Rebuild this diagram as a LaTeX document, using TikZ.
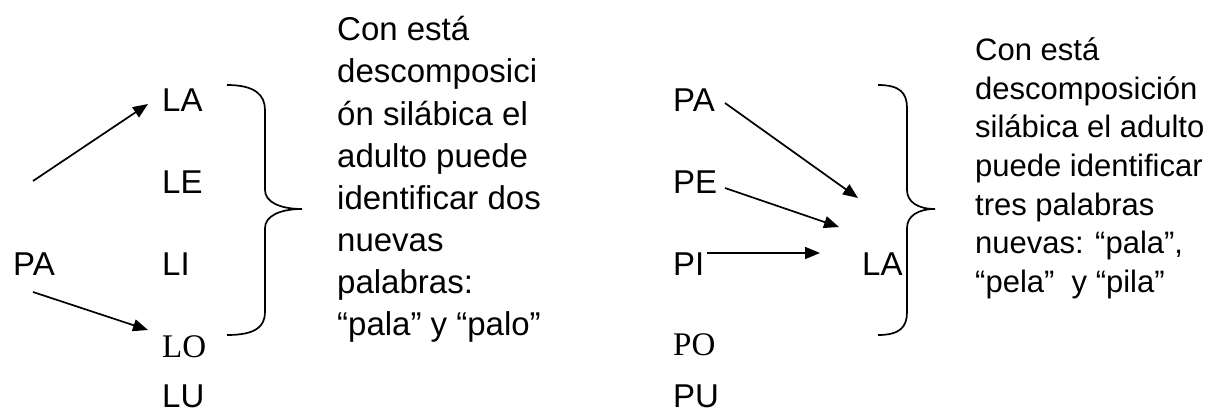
\documentclass[tikz,border=0pt]{standalone}
\usepackage{fontspec}
\setmainfont{Liberation Sans}
\newfontfamily\serifo{Liberation Serif}
\usetikzlibrary{arrows.meta}
\begin{document}
\begin{tikzpicture}[x=1pt,y=-1pt,
  txt/.style={anchor=base west,inner sep=0pt,font=\fontsize{33}{40}\selectfont},
  rtxt/.style={anchor=base west,inner sep=0pt,font=\fontsize{31}{38}\selectfont},
  stxt/.style={anchor=base west,inner sep=0pt,font=\serifo\fontsize{33}{40}\selectfont},
  arr/.style={line width=1.7pt,-{Triangle[length=15pt,width=12pt]}},
  brace/.style={line width=1.7pt}]
\useasboundingbox (0,0) rectangle (1217,417);
% left column
\node[txt] (lPA) at (13,275) {PA};
\node[txt] (lLA) at (162,112) {LA};
\node[txt] (lLE) at (162,193) {LE};
\node[txt] (lLI) at (162,275) {LI};
\node[stxt] (lLO) at (162,357) {LO};
\node[txt] (lLU) at (162,407) {LU};
\coordinate (a1s) at (33,181);
\coordinate (a1e) at (148,104);
\coordinate (a2s) at (33,292);
\coordinate (a2e) at (148,330);
\draw[arr] (a1s) -- (a1e);
\draw[arr] (a2s) -- (a2e);
\draw[brace] (227,85) .. controls (255,85) and (265,95) .. (265,110) -- (265,190)
  .. controls (265,202) and (280,209) .. (302,209)
  .. controls (280,209) and (265,216) .. (265,228) -- (265,312)
  .. controls (265,327) and (255,335) .. (227,335);
% left text
\foreach \t [count=\i] in {Con está,descomposici,ón silábica el,adulto puede,identificar dos,nuevas,palabras:,{“pala” y “palo”}}
  \node[txt] (lt\i) at (337,{41+42*(\i-1)}) {\t};
% right column
\node[txt] (rPA) at (673,112) {PA};
\node[txt] (rPE) at (673,193) {PE};
\node[txt] (rPI) at (673,275) {PI};
\node[stxt] (rPO) at (673,355) {PO};
\node[txt] (rPU) at (673,407) {PU};
\node[txt] (rLA) at (862,275) {LA};
\coordinate (b1s) at (725,103);
\coordinate (b1e) at (858,198);
\coordinate (b2s) at (725,188);
\coordinate (b2e) at (839,227);
\coordinate (b3s) at (707,253);
\coordinate (b3e) at (820,253);
\draw[arr] (b1s) -- (b1e);
\draw[arr] (b2s) -- (b2e);
\draw[arr] (b3s) -- (b3e);
\draw[brace] (878,85) .. controls (900,85) and (907,93) .. (907,108) -- (907,190)
  .. controls (907,202) and (918,209) .. (935,209)
  .. controls (918,209) and (907,216) .. (907,228) -- (907,312)
  .. controls (907,327) and (900,335) .. (878,335);
% right text
\foreach \t [count=\i] in {Con está,descomposición,silábica el adulto,puede identificar,tres palabras,{nuevas: “pala”,},{“pela”~ y “pila”}}
  \node[rtxt] (rt\i) at (975,{61+38.5*(\i-1)}) {\t};
\end{tikzpicture}
\end{document}
